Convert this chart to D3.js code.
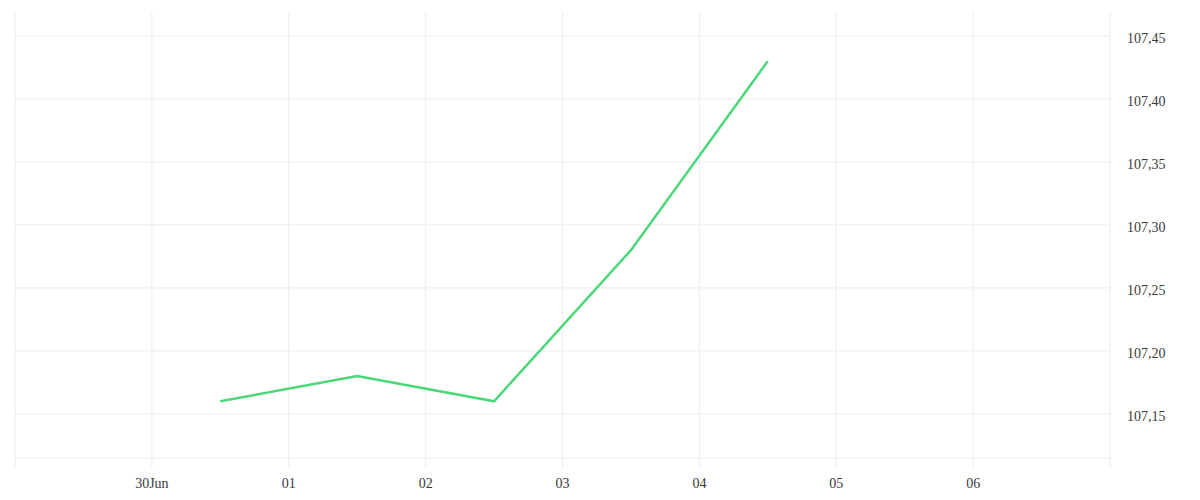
<!DOCTYPE html>
<html>
<head>
<meta charset="utf-8">
<script src="https://cdn.jsdelivr.net/npm/d3@7"></script>
<style>
	body { margin: 0; background: #fff; }
	text { font-family: "Liberation Serif", serif; font-size: 14px; fill: #3a3a3a; }
</style>
</head>
<body>
<div id="chart"></div>
<script>
// values, one point per day (plotted at noon)
const dates = ['2024-06-30', '2024-07-01', '2024-07-02', '2024-07-03', '2024-07-04'];
const values = [107.16, 107.18, 107.16, 107.28, 107.43];
const yTickValues = [107.15, 107.20, 107.25, 107.30, 107.35, 107.40, 107.45];
const xTickDates = ['2024-06-30', '2024-07-01', '2024-07-02', '2024-07-03', '2024-07-04', '2024-07-05', '2024-07-06'];
const xTickLabels = ['30Jun', '01', '02', '03', '04', '05', '06'];

const width = 1200,
	height = 500,
	margin = {top: 12, right: 90, bottom: 42, left: 15},
	lineColor = '#4cd878',
	gridColor = '#ececec';

const parse = d3.timeParse('%Y-%m-%d');
const data = dates.map((d, i) => ({date: d3.timeHour.offset(parse(d), 12), value: values[i]}));

const x = d3.scaleTime()
	.domain([parse('2024-06-29'), parse('2024-07-07')])
	.range([margin.left, width - margin.right]);

const y = d3.scaleLinear()
	.domain([107.115, 107.469])
	.range([height - margin.bottom, margin.top]);

const svg = d3.select('#chart').append('svg')
	.attr('width', width)
	.attr('height', height);

// vertical grid, including the two frame edges
const xGrid = [parse('2024-06-29')].concat(xTickDates.map(parse), [parse('2024-07-07')]);
svg.append('g')
	.selectAll('line')
	.data(xGrid)
	.enter().append('line')
		.attr('x1', d => x(d))
		.attr('x2', d => x(d))
		.attr('y1', margin.top)
		.attr('y2', height - margin.bottom + 10)
		.style('stroke', gridColor)
		.style('stroke-width', 1);

// horizontal grid
svg.append('g')
	.selectAll('line')
	.data(yTickValues.concat([y.domain()[0]]))
	.enter().append('line')
		.attr('x1', margin.left)
		.attr('x2', width - margin.right)
		.attr('y1', d => y(d))
		.attr('y2', d => y(d))
		.style('stroke', gridColor)
		.style('stroke-width', 1);

// y labels on the right
const fmt = d3.formatLocale({decimal: ',', thousands: '.', grouping: [3], currency: ['', '']}).format('.2f');
svg.append('g')
	.selectAll('text')
	.data(yTickValues)
	.enter().append('text')
		.attr('x', width - margin.right + 17)
		.attr('y', d => y(d))
		.attr('dy', '0.5em')
		.text(d => fmt(d));

// x labels
svg.append('g')
	.selectAll('text')
	.data(xTickDates)
	.enter().append('text')
		.attr('x', d => x(parse(d)))
		.attr('y', 483)
		.attr('dy', '0.35em')
		.attr('text-anchor', 'middle')
		.text((d, i) => xTickLabels[i]);

// the line
svg.append('path')
	.datum(data)
	.attr('d', d3.line().x(d => x(d.date)).y(d => y(d.value)))
	.style('fill', 'none')
	.style('stroke', lineColor)
	.style('stroke-width', 2.5);
</script>
</body>
</html>
